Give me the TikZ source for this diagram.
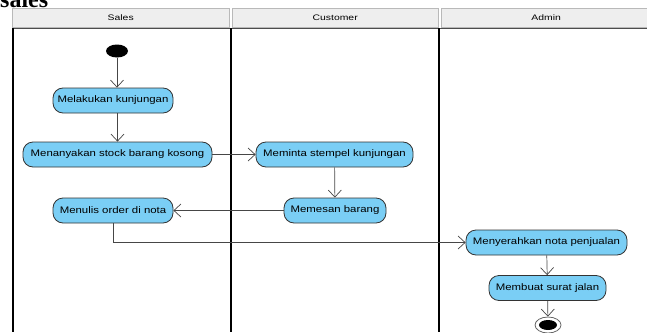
\documentclass[tikz,border=0pt]{standalone}
\usepackage{fontspec}
\setmainfont{Liberation Serif}
\setsansfont{Liberation Sans}
\newfontfamily\boxfont[FakeStretch=1.2]{Liberation Sans}
\newfontfamily\lanefont[FakeStretch=1.3]{Liberation Sans}
\usetikzlibrary{arrows.meta, positioning, shapes.geometric}
\definecolor{actblue}{RGB}{122,206,245}
\definecolor{headgray}{RGB}{238,238,238}
\definecolor{headline}{RGB}{185,185,185}
\definecolor{flowgray}{RGB}{70,70,70}

\begin{document}
\begin{tikzpicture}[
    x=1pt, y=-1pt,
    action/.style={rectangle, draw=black!80, rounded corners=10pt, fill=actblue, minimum height=25pt,
                   inner xsep=3pt, line width=0.8pt, font=\boxfont\fontsize{9.5}{11}\selectfont},
    lanehead/.style={rectangle, draw=headline, fill=headgray, minimum height=19pt, anchor=north west,
                     inner sep=0pt, font=\lanefont\fontsize{8}{9}\selectfont},
    lane/.style={line width=2pt, black},
    flow/.style={-{Straight Barb[length=7pt, width=13pt]}, flowgray, line width=0.7pt}
]
    \useasboundingbox (0,0) rectangle (647,332);
    \node[anchor=base west, inner sep=0pt, font=\bfseries\fontsize{24}{24}\selectfont] (title) at (0,7.5) {sales};

    % swimlanes
    \node[lanehead, minimum width=217pt] (hsales) at (12,8) {Sales};
    \node[lanehead, minimum width=206pt] (hcust) at (232,8) {Customer};
    \node[lanehead, minimum width=210pt] (hadmin) at (441,8) {Admin};
    \draw[black!70, line width=1pt] (12,28.5) -- (647,28.5);
    \draw[lane] (13,28) -- (13,332);
    \draw[lane] (231,28) -- (231,332);
    \draw[lane] (439,28) -- (439,332);

    % activities
    \node[ellipse, fill=black, minimum width=22pt, minimum height=13pt, inner sep=0pt] (start) at (117,51) {};
    \node[action, minimum width=120pt] (visit) at (113,100.5) {Melakukan kunjungan};
    \node[action, minimum width=189pt] (askstock) at (117.5,154.5) {Menanyakan stock barang kosong};
    \node[action, minimum width=157pt] (stamp) at (334.5,154.5) {Meminta stempel kunjungan};
    \node[action, minimum width=102pt] (order) at (335,210.5) {Memesan barang};
    \node[action, minimum width=120pt] (note) at (113,210.5) {Menulis order di nota};
    \node[action, minimum width=161pt] (handover) at (546.5,242.5) {Menyerahkan nota penjualan};
    \node[action, minimum width=117pt] (letter) at (547.5,288) {Membuat surat jalan};
    \node[ellipse, draw=black!60, fill=white, line width=0.8pt, minimum width=26pt, minimum height=16pt, inner sep=0pt] (stop) at (548,325) {};
    \node[ellipse, fill=black, minimum width=18pt, minimum height=10pt, inner sep=0pt] (stopdot) at (stop) {};

    % control flow
    \draw[flow] (start) -- (start |- visit.north);
    \draw[flow] (visit.south -| askstock.north) -- (askstock.north);
    \draw[flow] (askstock) -- (stamp);
    \draw[flow] (stamp) -- (order);
    \draw[flow] (order) -- (note);
    \draw[flow] (note) |- (handover);
    \draw[flow] (handover) -- (letter);
    \draw[flow] (letter) -- (stop);
\end{tikzpicture}
\end{document}
